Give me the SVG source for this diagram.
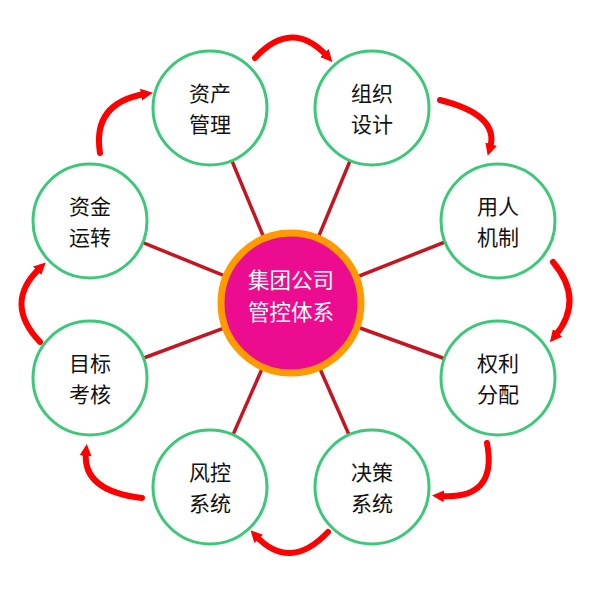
<svg xmlns="http://www.w3.org/2000/svg" width="589" height="589" viewBox="0 0 589 589">
<style>
.node circle{fill:#fff;stroke:#3cc878;stroke-width:3}
.node text{font-family:"Noto Sans CJK SC","Noto Sans",sans-serif;font-size:21px;fill:#111;text-anchor:middle}
.spoke{stroke:#c41620;stroke-width:3.5}
.arc{fill:none;stroke:#ff0000;stroke-width:6;stroke-linecap:round;marker-end:url(#ah)}
#center text{font-family:"Noto Sans CJK SC","Noto Sans",sans-serif;font-size:21.5px;fill:#fff;text-anchor:middle}
</style>
<defs>
<marker id="ah" markerUnits="userSpaceOnUse" markerWidth="14" markerHeight="14" refX="4" refY="7" orient="auto">
<path d="M0,1 L12,7 L0,13 z" fill="#ff0000"/>
</marker>
</defs>
<rect width="589" height="589" fill="#fff"/>
<g id="connectors">
<line class="spoke" x1="291" y1="303" x2="210" y2="108"/>
<line class="spoke" x1="291" y1="303" x2="372" y2="108"/>
<line class="spoke" x1="291" y1="303" x2="498" y2="221"/>
<line class="spoke" x1="291" y1="303" x2="498" y2="378"/>
<line class="spoke" x1="291" y1="303" x2="372" y2="487"/>
<line class="spoke" x1="291" y1="303" x2="210" y2="487"/>
<line class="spoke" x1="291" y1="303" x2="90" y2="378"/>
<line class="spoke" x1="291" y1="303" x2="90" y2="221"/>
<path class="arc" d="M255,58 Q292,18 327,56"/>
<path class="arc" d="M440,100 Q500,115 490,148"/>
<path class="arc" d="M553,262 Q585,300 555,336"/>
<path class="arc" d="M487,443 Q498,500 440,496"/>
<path class="arc" d="M328,532 Q290,572 256,536"/>
<path class="arc" d="M142,498 Q82,491 86,452"/>
<path class="arc" d="M40,342 Q3,303 40,268"/>
<path class="arc" d="M100,153 Q92,103 145,94"/>
</g>
<g id="center">
<circle cx="291" cy="303" r="70" fill="#ec0c8f" stroke="#ff9a00" stroke-width="7"/>
<text x="291" y="288"><tspan x="291">集团公司</tspan><tspan x="291" dy="32">管控体系</tspan></text>
</g>
<g id="n1" class="node"><circle cx="210" cy="108" r="57"/><text x="210" y="101"><tspan x="210">资产</tspan><tspan x="210" dy="31">管理</tspan></text></g>
<g id="n2" class="node"><circle cx="372" cy="108" r="57"/><text x="372" y="101"><tspan x="372">组织</tspan><tspan x="372" dy="31">设计</tspan></text></g>
<g id="n3" class="node"><circle cx="498" cy="221" r="57"/><text x="498" y="214"><tspan x="498">用人</tspan><tspan x="498" dy="31">机制</tspan></text></g>
<g id="n4" class="node"><circle cx="498" cy="378" r="57"/><text x="498" y="371"><tspan x="498">权利</tspan><tspan x="498" dy="31">分配</tspan></text></g>
<g id="n5" class="node"><circle cx="372" cy="487" r="57"/><text x="372" y="480"><tspan x="372">决策</tspan><tspan x="372" dy="31">系统</tspan></text></g>
<g id="n6" class="node"><circle cx="210" cy="487" r="57"/><text x="210" y="480"><tspan x="210">风控</tspan><tspan x="210" dy="31">系统</tspan></text></g>
<g id="n7" class="node"><circle cx="90" cy="378" r="57"/><text x="90" y="371"><tspan x="90">目标</tspan><tspan x="90" dy="31">考核</tspan></text></g>
<g id="n8" class="node"><circle cx="90" cy="221" r="57"/><text x="90" y="214"><tspan x="90">资金</tspan><tspan x="90" dy="31">运转</tspan></text></g>
</svg>
